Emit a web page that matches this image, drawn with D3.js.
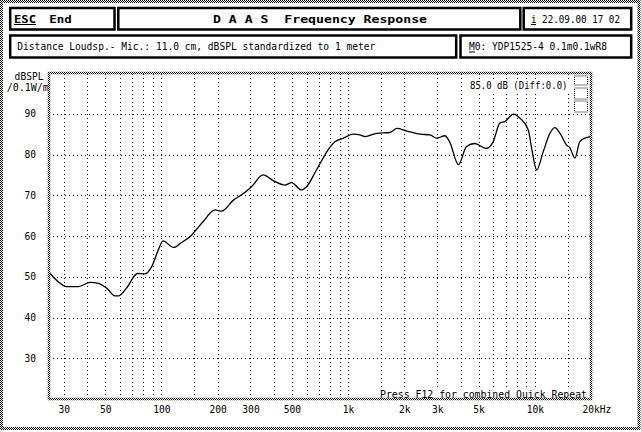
<!DOCTYPE html>
<html><head><meta charset="utf-8">
<script src="https://cdn.jsdelivr.net/npm/d3@7"></script>
<style>body{margin:0;background:#fff}svg{display:block}text{font-family:"DejaVu Sans Mono","Liberation Mono",monospace;fill:#000;white-space:pre}</style>
</head><body>
<script>
// ---- data ----
const freqs = [25, 28, 31, 36, 41.5, 46, 51, 56.4, 58.8, 65, 74.5, 81.6, 88.7, 96.3, 102, 116, 128, 145, 154, 167, 194, 210, 243, 269, 304, 350, 397, 459, 498, 562, 599, 677, 780, 850, 942, 1065, 1157, 1230, 1423, 1675, 1828, 2052, 2432, 2747, 2980, 3300, 3500, 3900, 4300, 4770, 5500, 5980, 6500, 6920, 7680, 8330, 9230, 9620, 10230, 11100, 12050, 12800, 13650, 14800, 15400, 16400, 17400, 18550, 19700, 20000];
const dbspl = [51.1, 48.8, 47.6, 47.6, 48.6, 48.4, 47.2, 45.3, 45.3, 47.2, 50.8, 50.7, 52.5, 56.6, 58.8, 57.2, 58.4, 60.2, 61.6, 63.5, 66.4, 66.1, 68.8, 70.1, 72.1, 75.0, 73.6, 72.5, 73.1, 71.3, 72.1, 76.2, 81.1, 83.1, 84.0, 85.0, 84.8, 84.4, 85.2, 85.4, 86.4, 85.8, 85.0, 84.8, 84.0, 84.6, 83.1, 77.5, 81.9, 82.7, 81.5, 83.1, 87.7, 88.1, 89.9, 88.9, 86.0, 81.5, 76.2, 80.7, 85.2, 86.6, 85.2, 82.3, 81.7, 79.1, 83.1, 84.0, 84.4, 84.6];
const xGrid = [30,40,50,60,70,80,90,100,150,200,300,400,500,600,700,800,900,1000,1500,2000,3000,4000,5000,6000,7000,8000,9000,10000,15000];
const xTicks = [30,50,100,200,300,500,1000,2000,3000,5000,10000,20000];
const xTickLabels = ["30","50","100","200","300","500","1k","2k","3k","5k","10k","20kHz"];
const yTicks = [30,40,50,60,70,80,90];

const W = 641, H = 432;
const svg = d3.select("body").append("svg").attr("width", W).attr("height", H);
const defs = svg.append("defs");
const pat = defs.append("pattern").attr("id","chk").attr("width",2).attr("height",2).attr("patternUnits","userSpaceOnUse");
pat.append("rect").attr("width",2).attr("height",2).attr("fill","#fff");
pat.append("rect").attr("x",0).attr("y",0).attr("width",1).attr("height",1).attr("fill","#000");
pat.append("rect").attr("x",1).attr("y",1).attr("width",1).attr("height",1).attr("fill","#000");

// outer frame
svg.append("rect").attr("x",1.5).attr("y",1.5).attr("width",637.5).attr("height",427)
  .attr("fill","none").attr("stroke","url(#chk)").attr("stroke-width",3);

// header boxes
const boxes = [[10.2,8,104.3,21.5],[118.3,8,402,21.5],[523.7,8,107.5,21.5],[10.2,35.5,446,22],[460.5,35.5,170.7,22]];
svg.selectAll("rect.box").data(boxes).join("rect").attr("class","box")
  .attr("x",d=>d[0]).attr("y",d=>d[1]).attr("width",d=>d[2]).attr("height",d=>d[3])
  .attr("fill","none").attr("stroke","#000").attr("stroke-width",2.5);

const fs = 9.6;
function txt(x,y,s,opt={}){
  const t = svg.append("text").attr("x",x).attr("y",y).attr("xml:space","preserve").text(s).style("font-size",(opt.size||fs)+"px");
  if(opt.bold) t.style("font-weight","bold");
  if(opt.len) t.attr("textLength",opt.len).attr("lengthAdjust","spacingAndGlyphs");
  if(opt.anchor) t.attr("text-anchor",opt.anchor);
  return t;
}
function uline(x1,x2,y){ svg.append("line").attr("x1",x1).attr("x2",x2).attr("y1",y).attr("y2",y).attr("stroke","#000").attr("stroke-width",1); }

txt(14,22.5,"ESC",{bold:true,size:10,len:22});
uline(14,36,24.5);
txt(49.3,22.5,"End",{bold:true,size:10,len:22.5});
txt(213,22.5,"D A A S  Frequency Response",{bold:true,size:10,len:214});
txt(531,22.5,"i 22.09.00 17 02",{len:89});
uline(531,536,24.5);
txt(17.3,50,"Distance Loudsp.- Mic.: 11.0 cm, dBSPL standardized to 1 meter",{len:358});
txt(469,50,"M0: YDP1525-4 0.1m0.1wR8",{len:138});
uline(469,475,52);

// scales
const x = d3.scaleLog().domain([25,20000]).range([49,591]);
const y = d3.scaleLinear().domain([20,100]).range([399,73]);

// grid
const gx = svg.append("g").attr("transform","translate(0,399)")
  .call(d3.axisBottom(x).tickValues(xGrid).tickSize(-(399-73)).tickFormat(""));
gx.select(".domain").remove();
gx.selectAll("line").attr("stroke","#000").attr("stroke-dasharray","1,3").attr("shape-rendering","crispEdges");
const gy = svg.append("g").attr("transform","translate(49,0)")
  .call(d3.axisLeft(y).tickValues(yTicks).tickSize(-(591-49)).tickFormat(""));
gy.select(".domain").remove();
gy.selectAll("line").attr("stroke","#000").attr("stroke-dasharray","1,3").attr("shape-rendering","crispEdges");

// axis labels
const ax = svg.append("g").attr("transform","translate(0,399)")
  .call(d3.axisBottom(x).tickValues(xTicks).tickSize(0).tickPadding(10).tickFormat((d,i)=>xTickLabels[i]));
ax.select(".domain").remove();
ax.selectAll("text").style("font-size",fs+"px").style("font-family",'"DejaVu Sans Mono",monospace')
  .attr("dy","0.45em");
ax.selectAll("text").filter(d=>d===20000).attr("text-anchor","start").attr("dx",-9);
const ay = svg.append("g").attr("transform","translate(36,0)")
  .call(d3.axisLeft(y).tickValues(yTicks).tickSize(0).tickPadding(0));
ay.select(".domain").remove();
ay.selectAll("text").style("font-size",fs+"px").style("font-family",'"DejaVu Sans Mono",monospace');

txt(43.5,80,"dBSPL",{anchor:"end"});
txt(6.7,90.5,"/0.1W/m",{len:42});
svg.append("rect").attr("x",467).attr("y",80).attr("width",103).attr("height",12).attr("fill","#fff");
txt(470,89,"85.0 dB (Diff:0.0)",{len:97.5});

// small widget top-right
[[574.5,76,13,9],[574.5,88,13,11],[574.5,101,13,11]].forEach(r=>{
  svg.append("rect").attr("x",r[0]).attr("y",r[1]).attr("width",r[2]).attr("height",r[3])
    .attr("fill","none").attr("stroke","#000").attr("stroke-dasharray","1,1").attr("stroke-width",1);
});

// curve
const line = d3.line().x((d,i)=>x(freqs[i])).y(d=>y(d)).curve(d3.curveMonotoneX);
svg.append("path").datum(dbspl).attr("d",line).attr("fill","none").attr("stroke","#000").attr("stroke-width",1.3);

// footer text background
svg.append("rect").attr("x",378).attr("y",389).attr("width",212).attr("height",10).attr("fill","#fff");

// plot frame
svg.append("rect").attr("x",49).attr("y",73).attr("width",542).attr("height",326)
  .attr("fill","none").attr("stroke","url(#chk)").attr("stroke-width",2.5);

txt(380,397.5,"Press F12 for combined Quick Repeat",{len:207});
</script>
</body></html>
